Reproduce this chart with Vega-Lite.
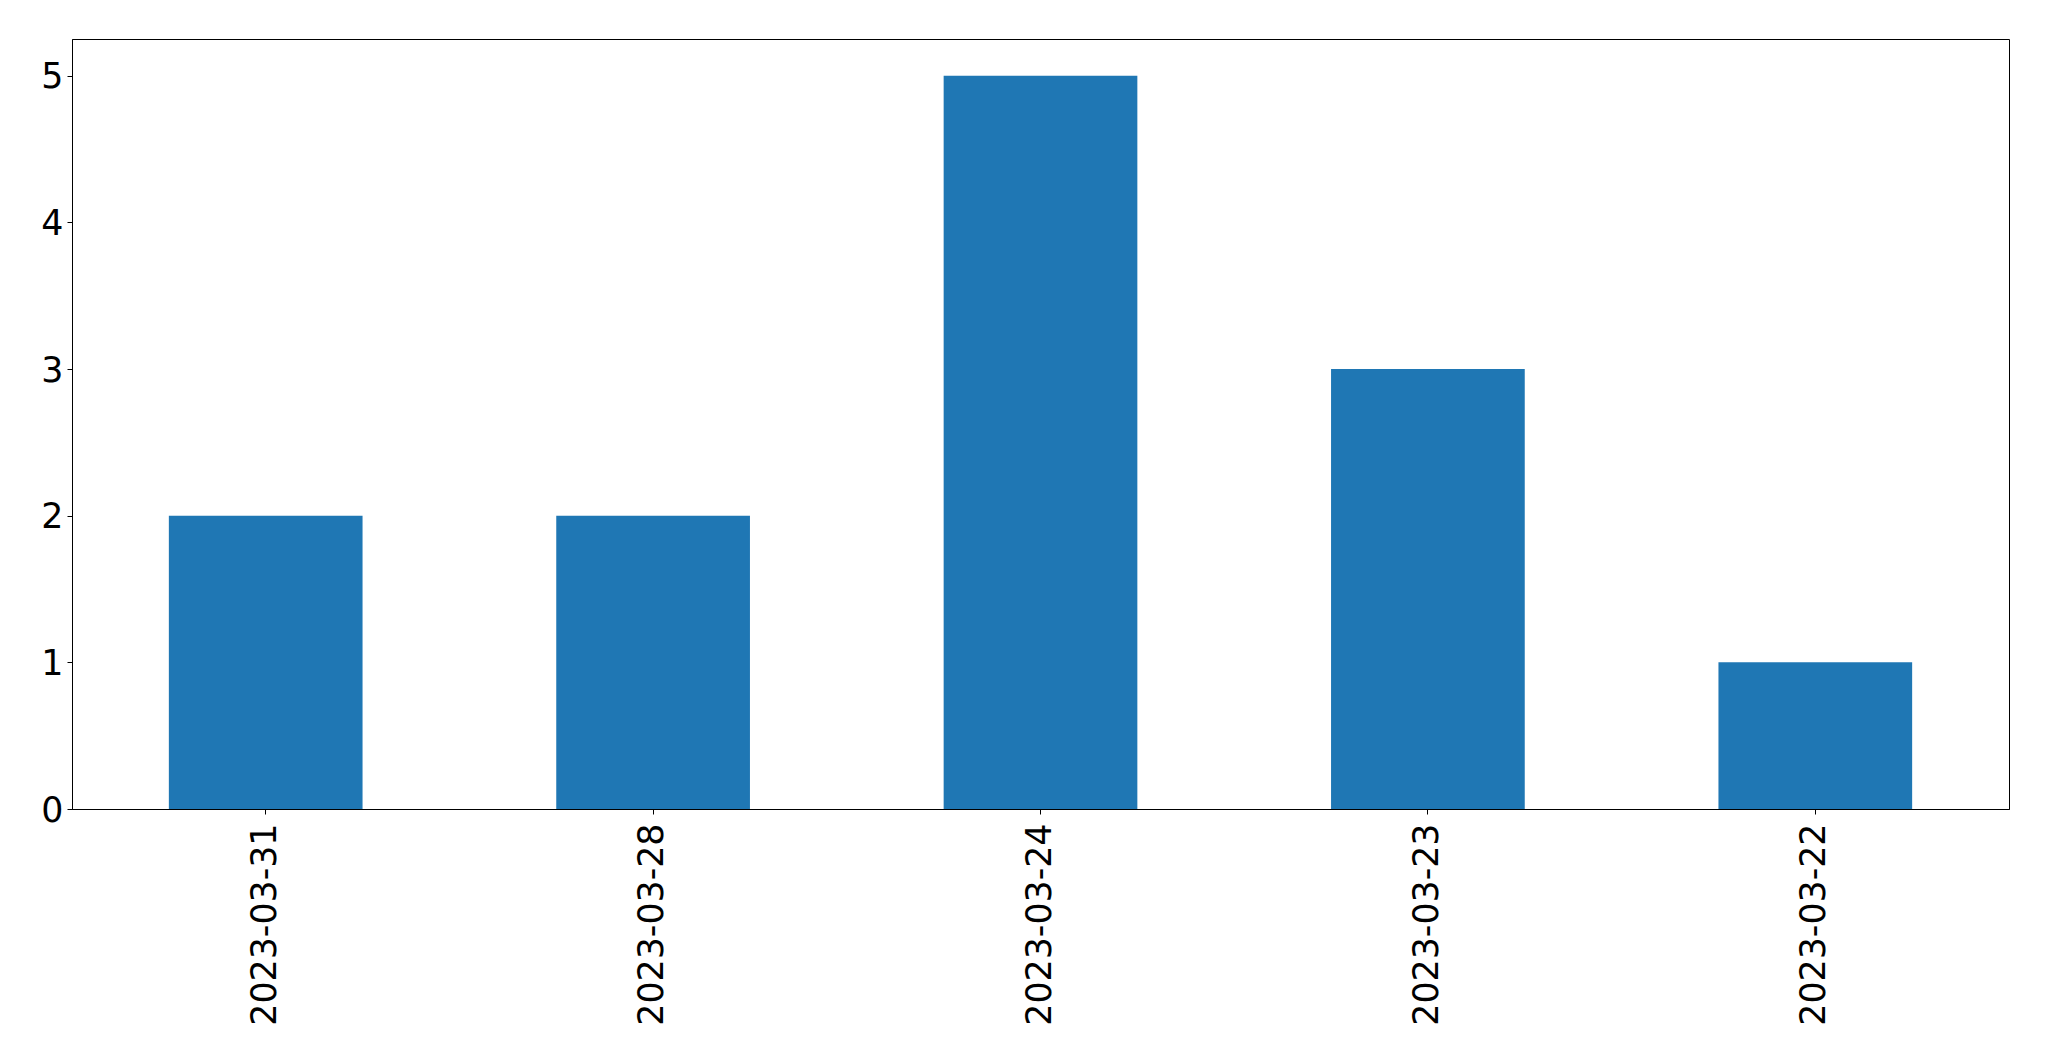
{
  "$schema": "https://vega.github.io/schema/vega-lite/v6.json",
  "autosize": {"type": "none"},
  "padding": {"left": 72, "top": 39, "right": 40, "bottom": 252},
  "width": 1937,
  "height": 770,
  "background": "white",
  "config": {
    "view": {"stroke": "black", "strokeWidth": 1},
    "font": "DejaVu Sans",
    "axis": {
      "labelFont": "DejaVu Sans",
      "labelFontSize": 34.8,
      "labelColor": "black",
      "labelLimit": 500,
      "domainColor": "black",
      "domainWidth": 1,
      "tickColor": "black",
      "tickWidth": 1,
      "tickSize": 5,
      "labelPadding": 5,
      "grid": false,
      "title": null
    }
  },
  "data": {
    "values": [
      {"date": "2023-03-31", "count": 2},
      {"date": "2023-03-28", "count": 2},
      {"date": "2023-03-24", "count": 5},
      {"date": "2023-03-23", "count": 3},
      {"date": "2023-03-22", "count": 1}
    ]
  },
  "mark": {"type": "bar", "color": "#1f77b4"},
  "encoding": {
    "x": {
      "field": "date",
      "type": "nominal",
      "sort": null,
      "scale": {"paddingInner": 0.5, "paddingOuter": 0.25},
      "axis": {"labelAngle": 270, "labelPadding": 9}
    },
    "y": {
      "field": "count",
      "type": "quantitative",
      "scale": {"domain": [0, 5.25], "nice": false},
      "axis": {"values": [0, 1, 2, 3, 4, 5], "labelPadding": 4, "labelOffset": 2}
    }
  }
}
